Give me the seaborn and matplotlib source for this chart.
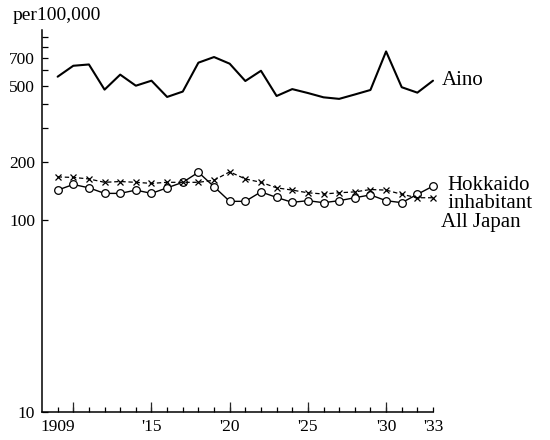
import matplotlib
matplotlib.use("Agg")
import matplotlib.pyplot as plt
import seaborn as sns
import pandas as pd
from matplotlib.ticker import FixedLocator, NullFormatter, FuncFormatter

# Death rate per 100,000, 1909-1933
years = list(range(1909, 1934))
aino = [557, 635, 645, 477, 571, 500, 531, 437, 466, 659, 705, 651, 529,
        598, 442, 480, 458, 435, 427, 450, 475, 754, 491, 460, 531]
hokkaido = [143, 153, 147, 137.5, 137.5, 143, 137.5, 147, 157, 177, 149,
            125, 125, 140, 131, 123.5, 126, 123, 126, 130.5, 135, 126, 123,
            136, 150]
all_japan = [167.5, 166.5, 163.5, 157, 158.5, 157, 155, 157, 157, 157, 161,
             178, 163.5, 157, 147, 143, 138.5, 136.5, 138.5, 140, 144, 143,
             136, 130.5, 130.5]

series_labels = ["Aino", "Hokkaido", " inhabitant", "All Japan"]

y_major = [10, 100, 200, 500, 700]
y_minor = [300, 400, 600, 800, 900]
x_label_years = [1909, 1915, 1920, 1925, 1930, 1933]
x_label_text = ["1909", "'15", "'20", "'25", "'30", "'33"]
x_long_ticks = [1910, 1915, 1920, 1925, 1930]

sns.set_theme(style="ticks")
plt.rcParams["font.family"] = ["Liberation Serif", "DejaVu Serif"]
plt.rcParams["axes.edgecolor"] = "black"
plt.rcParams["text.color"] = "black"

df = pd.DataFrame({"year": years, "aino": aino,
                   "hokkaido": hokkaido, "all_japan": all_japan})

W, H = 550, 440
fig = plt.figure(figsize=(W / 100, H / 100), dpi=100)
ax = fig.add_axes([42 / W, 1 - 412 / H, (433 - 42) / W, (412 - 30) / H])

sns.lineplot(data=df, x="year", y="aino", ax=ax, color="black",
             linewidth=1.5, clip_on=False)
sns.lineplot(data=df, x="year", y="hokkaido", ax=ax, color="black",
             linewidth=1.0, marker="o", markersize=5.5,
             markerfacecolor="white", markeredgecolor="black",
             markeredgewidth=0.9, clip_on=False)
sns.lineplot(data=df, x="year", y="all_japan", ax=ax, color="black",
             linewidth=0.9, linestyle=(0, (3.5, 2.2)), marker="x",
             markersize=5, markeredgecolor="black", markeredgewidth=0.9,
             clip_on=False)

ax.set_yscale("log")
ax.set_ylim(10, 975)
ax.set_xlim(1908, 1933)

ax.yaxis.set_major_locator(FixedLocator(y_major))
ax.yaxis.set_major_formatter(FuncFormatter(lambda v, p: f"{int(round(v))}"))
ax.yaxis.set_minor_locator(FixedLocator(y_minor))
ax.yaxis.set_minor_formatter(NullFormatter())

label_map = dict(zip(x_label_years, x_label_text))
ax.xaxis.remove_overlapping_locs = False
ax.xaxis.set_major_locator(FixedLocator(years))
ax.xaxis.set_major_formatter(
    FuncFormatter(lambda v, p: label_map.get(int(round(v)), "")))
ax.xaxis.set_minor_locator(FixedLocator(x_long_ticks))
ax.xaxis.set_minor_formatter(NullFormatter())

ax.tick_params(axis="x", which="major", direction="in", length=3.5,
               width=0.9, pad=5, labelsize=12.5, colors="black")
ax.tick_params(axis="x", which="minor", direction="in", length=7.5,
               width=0.9)
ax.tick_params(axis="y", which="both", direction="in", length=4.5,
               width=0.9, pad=5, labelsize=12.5, colors="black")

ax.set_xlabel("")
ax.set_ylabel("")
for side in ("top", "right"):
    ax.spines[side].set_visible(False)
for side in ("left", "bottom"):
    ax.spines[side].set_linewidth(1.1)
ax.set_facecolor("white")
fig.patch.set_facecolor("white")

fig.text(13 / W, 1 - 16 / H, "per100,000", ha="left", va="center",
         fontsize=14)

label_pos = [(442, 80), (447, 185), (443, 203), (441, 222)]
for text, (px, py) in zip(series_labels, label_pos):
    fig.text(px / W, 1 - py / H, text, ha="left", va="center", fontsize=15)

fig.savefig("out.png", dpi=100)
